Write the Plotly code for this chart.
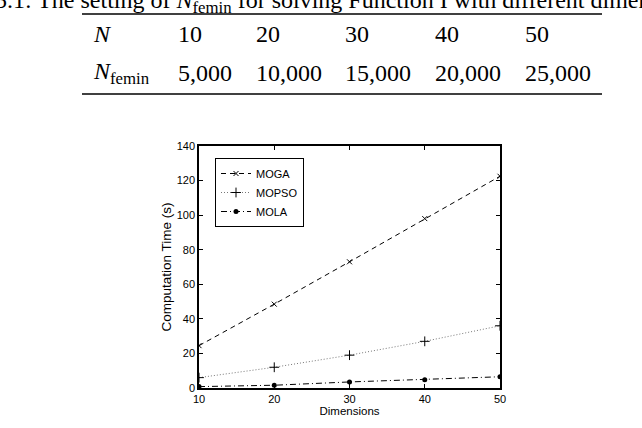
import plotly.graph_objects as go

# ---- data ----
dimensions = [10, 20, 30, 40, 50]
moga = [24.5, 48.5, 73, 98, 122.5]
mopso = [6, 12, 19, 27, 36]
mola = [0.8, 1.6, 3.5, 4.8, 6.5]

table_n = ["10", "20", "30", "40", "50"]
table_nfemin = ["5,000", "10,000", "15,000", "20,000", "25,000"]
y_ticks = [0, 20, 40, 60, 80, 100, 120, 140]
x_ticks = [10, 20, 30, 40, 50]

W, H = 642, 428
L, R, T, B = 199, 500, 146, 388  # plot area in pixels


def px(x):
    return (x - L) / (R - L)


def py(y):
    return (B - y) / (B - T)


fig = go.Figure()
fig.add_trace(go.Scatter(
    x=dimensions, y=moga, name="MOGA", mode="lines+markers",
    line=dict(color="black", width=1, dash="5px,4px"),
    marker=dict(symbol="x-thin", size=5, line=dict(color="black", width=1), color="black"),
))
fig.add_trace(go.Scatter(
    x=dimensions, y=mopso, name="MOPSO", mode="lines+markers",
    line=dict(color="#777777", width=1, dash="1px,2px"),
    marker=dict(symbol="cross-thin", size=7, line=dict(color="black", width=1), color="black"),
))
fig.add_trace(go.Scatter(
    x=dimensions, y=mola, name="MOLA", mode="lines+markers",
    line=dict(color="black", width=1, dash="6px,3px,1px,3px"),
    marker=dict(symbol="circle", size=5, color="black"),
))

serif = "Liberation Serif"
tfont = dict(family=serif, size=24, color="black")
annotations = []
# caption (cut at top of page)
annotations.append(dict(
    text="Table 5.1: The setting of <i>N</i><sub>femin</sub> for solving Function I with different dimensions",
    x=px(-66), y=py(2.5), xref="paper", yref="paper", xanchor="left", yanchor="middle",
    showarrow=False, font=tfont))
col_x = [176, 254, 343, 433, 523]
row_y = [33.5, 73.5]
annotations.append(dict(text="<i>N</i>", x=px(91), y=py(row_y[0]), xref="paper", yref="paper",
                        xanchor="left", yanchor="middle", showarrow=False, font=tfont))
annotations.append(dict(text="<i>N</i><sub>femin</sub>", x=px(91), y=py(row_y[1]), xref="paper",
                        yref="paper", xanchor="left", yanchor="middle", showarrow=False, font=tfont))
for cx, a, b in zip(col_x, table_n, table_nfemin):
    annotations.append(dict(text=a, x=px(cx), y=py(row_y[0]), xref="paper", yref="paper",
                            xanchor="left", yanchor="middle", showarrow=False, font=tfont))
    annotations.append(dict(text=b, x=px(cx), y=py(row_y[1]), xref="paper", yref="paper",
                            xanchor="left", yanchor="middle", showarrow=False, font=tfont))

shapes = [
    dict(type="line", xref="paper", yref="paper", x0=px(82), x1=px(602), y0=py(14), y1=py(14),
         line=dict(color="black", width=1.5)),
    dict(type="line", xref="paper", yref="paper", x0=px(82), x1=px(602), y0=py(94), y1=py(94),
         line=dict(color="black", width=1.5)),
]

sans = "Liberation Sans"
axis_common = dict(showgrid=False, zeroline=False, showline=True, linecolor="black", linewidth=1.5,
                   mirror="ticks", ticks="inside", ticklen=4, tickcolor="black", tickwidth=1,
                   tickfont=dict(family=sans, size=11, color="black"))

fig.update_layout(
    width=W, height=H,
    margin=dict(l=L, r=W - R, t=T, b=H - B),
    paper_bgcolor="white", plot_bgcolor="white",
    showlegend=True,
    legend=dict(x=px(215), y=py(158), xanchor="left", yanchor="top",
                bordercolor="black", borderwidth=1, bgcolor="white",
                font=dict(family=sans, size=11, color="black"),
                itemwidth=30, tracegroupgap=0),
    xaxis=dict(range=[10, 50], tickvals=x_ticks,
               title=dict(text="Dimensions", font=dict(family=sans, size=11.5, color="black"), standoff=2),
               **axis_common),
    yaxis=dict(range=[0, 140], tickvals=y_ticks,
               title=dict(text="Computation Time (s)", font=dict(family=sans, size=13.5, color="black"), standoff=2),
               **axis_common),
    annotations=annotations,
    shapes=shapes,
)

fig.write_html("out.html")
